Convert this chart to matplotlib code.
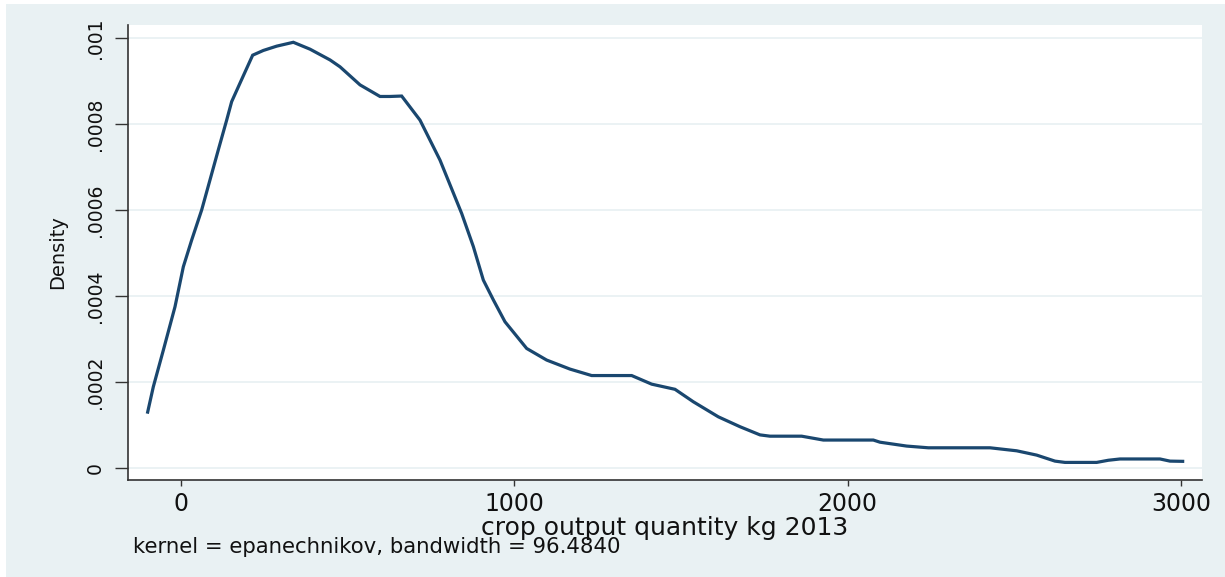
import matplotlib.pyplot as plt
from matplotlib.patches import Rectangle

# kernel density estimate
quantity = [-100, -83, -53, -18, 7, 32, 62, 87, 112, 137, 152, 177, 215, 247, 287, 337,
            387, 447, 477, 537, 597, 627, 662, 717, 777, 842, 877, 907, 937, 972, 1037,
            1097, 1167, 1232, 1352, 1412, 1482, 1537, 1612, 1677, 1737, 1767, 1862, 1927,
            2077, 2097, 2177, 2242, 2427, 2507, 2567, 2622, 2652, 2747, 2782, 2817, 2937,
            2967, 3005]
density_e4 = [1.30, 1.89, 2.74, 3.75, 4.68, 5.30, 6.00, 6.70, 7.40, 8.09, 8.52, 8.95, 9.60,
              9.71, 9.81, 9.90, 9.74, 9.49, 9.33, 8.91, 8.64, 8.64, 8.65, 8.09, 7.16, 5.92,
              5.15, 4.37, 3.91, 3.40, 2.78, 2.51, 2.30, 2.15, 2.15, 1.95, 1.83, 1.54, 1.19,
              0.96, 0.77, 0.74, 0.74, 0.65, 0.65, 0.60, 0.51, 0.47, 0.47, 0.40, 0.30, 0.16,
              0.13, 0.13, 0.18, 0.21, 0.21, 0.16, 0.155]
density = [d / 10000 for d in density_e4]

xticks = [0, 1000, 2000, 3000]
yticks = [0, 0.0002, 0.0004, 0.0006, 0.0008, 0.001]
ytick_labels = ['0', '.0002', '.0004', '.0006', '.0008', '.001']

bg = '#E9F1F3'
navy = '#1A476F'

plt.rcParams['font.family'] = ['DejaVu Sans']
fig = plt.figure(figsize=(12.25, 5.77), dpi=100)
fig.patch.set_facecolor('white')
fig.patches.append(Rectangle((6 / 1225, 0), 1 - 6 / 1225, 1 - 4 / 577,
                             transform=fig.transFigure, facecolor=bg,
                             edgecolor='none', zorder=-10))

ax = fig.add_axes([128 / 1225, 1 - 480 / 577, 1074 / 1225, 455 / 577])
ax.set_facecolor('white')
ax.plot(quantity, density, color=navy, lw=2.3, solid_joinstyle='miter')

ax.set_xlim(-159, 3063)
ax.set_ylim(-0.0000279, 0.0010302)

ax.set_xticks(xticks)
ax.set_xticklabels([str(t) for t in xticks], fontsize=17, color='#111111')
ax.set_yticks(yticks)
ax.set_yticklabels(ytick_labels, fontsize=13.5, rotation=90, va='center', color='#111111')
ax.tick_params(axis='x', length=4.5, width=1, pad=4, color='#333333')
ax.tick_params(axis='y', length=9.5, width=1, pad=7, color='#333333')

ax.grid(axis='y', color=bg, lw=1.3)
ax.set_axisbelow(True)
for side in ['top', 'right']:
    ax.spines[side].set_visible(False)
for side in ['left', 'bottom']:
    ax.spines[side].set_color('#333333')
    ax.spines[side].set_linewidth(1.2)

ax.set_xlabel('crop output quantity kg 2013', fontsize=18, labelpad=0.5, color='#111111')
ax.set_ylabel('Density', fontsize=14, color='#111111')
ax.yaxis.set_label_coords(-0.057, 0.5)

fig.text(133 / 1225, 1 - 553 / 577, 'kernel = epanechnikov, bandwidth = 96.4840',
         fontsize=15.3, va='baseline', ha='left', color='#111111')

fig.savefig('out.png', dpi=100, facecolor=fig.get_facecolor())
